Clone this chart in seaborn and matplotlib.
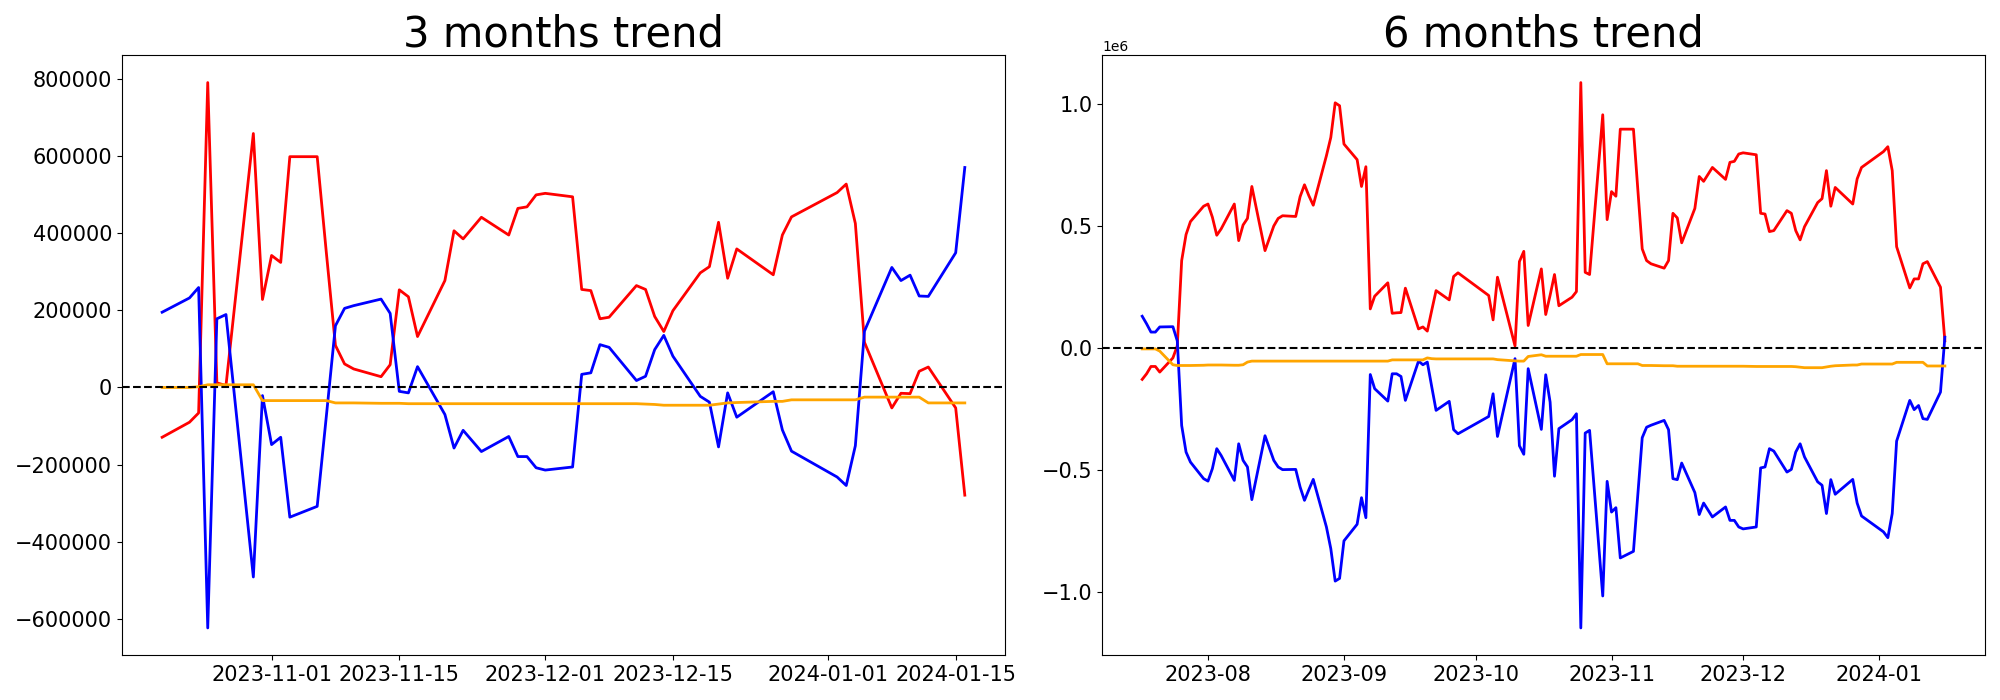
import pandas as pd
import matplotlib
matplotlib.use("Agg")
import matplotlib.pyplot as plt
import seaborn as sns

# 3 months window (cumulative values)
dates_3m = [
    "2023-10-20", "2023-10-23", "2023-10-24", "2023-10-25", "2023-10-26", "2023-10-27",
    "2023-10-30", "2023-10-31", "2023-11-01", "2023-11-02", "2023-11-03",
    "2023-11-06", "2023-11-07", "2023-11-08", "2023-11-09", "2023-11-10",
    "2023-11-13", "2023-11-14", "2023-11-15", "2023-11-16", "2023-11-17",
    "2023-11-20", "2023-11-21", "2023-11-22", "2023-11-24",
    "2023-11-27", "2023-11-28", "2023-11-29", "2023-11-30", "2023-12-01",
    "2023-12-04", "2023-12-05", "2023-12-06", "2023-12-07", "2023-12-08",
    "2023-12-11", "2023-12-12", "2023-12-13", "2023-12-14", "2023-12-15",
    "2023-12-18", "2023-12-19", "2023-12-20", "2023-12-21", "2023-12-22",
    "2023-12-26", "2023-12-27", "2023-12-28",
    "2024-01-02", "2024-01-03", "2024-01-04", "2024-01-05",
    "2024-01-08", "2024-01-09", "2024-01-10", "2024-01-11", "2024-01-12",
    "2024-01-15", "2024-01-16",
]
red_3m = [
    -129000, -90000, -66000, 790000, 12000, 5000,
    658000, 228000, 342000, 324000, 598000,
    598000, 350000, 109000, 61000, 48000,
    28000, 59000, 253000, 235000, 132000,
    277000, 406000, 385000, 441000,
    395000, 464000, 468000, 499000, 503000,
    494000, 254000, 251000, 178000, 182000,
    264000, 254000, 184000, 145000, 199000,
    297000, 313000, 428000, 283000, 359000,
    292000, 395000, 442000,
    505000, 527000, 425000, 117000,
    -53000, -15000, -16000, 42000, 53000,
    -53000, -279000,
]
blue_3m = [
    195000, 232000, 259000, -623000, 178000, 189000,
    -491000, -21000, -148000, -129000, -336000,
    -308000, -75000, 160000, 205000, 212000,
    229000, 192000, -10000, -14000, 54000,
    -70000, -157000, -111000, -166000,
    -127000, -179000, -179000, -208000, -214000,
    -206000, 34000, 38000, 111000, 104000,
    18000, 29000, 98000, 135000, 81000,
    -23000, -38000, -154000, -14000, -77000,
    -11000, -110000, -165000,
    -232000, -254000, -151000, 146000,
    311000, 277000, 291000, 237000, 236000,
    349000, 570000,
]
orange_3m = [
    0, 0, 2000, 7000, 7000, 7000,
    7000, -34000, -34000, -34000, -34000,
    -34000, -34000, -40000, -40000, -40000,
    -41000, -41000, -41000, -42000, -42000,
    -42000, -42000, -42000, -42000,
    -42000, -42000, -42000, -42000, -42000,
    -42000, -42000, -42000, -42000, -42000,
    -42000, -43000, -44000, -46000, -46000,
    -46000, -46000, -43000, -40000, -39000,
    -36000, -36000, -32000,
    -32000, -32000, -32000, -25000,
    -25000, -25000, -25000, -25000, -40000,
    -40000, -40000,
]

# 6 months window (cumulative values)
dates_6m = [
    "2023-07-17", "2023-07-18", "2023-07-19", "2023-07-20", "2023-07-21",
    "2023-07-24", "2023-07-25", "2023-07-26", "2023-07-27", "2023-07-28",
    "2023-07-31",
    "2023-08-01", "2023-08-02", "2023-08-03", "2023-08-04",
    "2023-08-07", "2023-08-08", "2023-08-09", "2023-08-10", "2023-08-11",
    "2023-08-14", "2023-08-16", "2023-08-17", "2023-08-18",
    "2023-08-21", "2023-08-22", "2023-08-23", "2023-08-24", "2023-08-25",
    "2023-08-28", "2023-08-29", "2023-08-30", "2023-08-31", "2023-09-01",
    "2023-09-04", "2023-09-05", "2023-09-06", "2023-09-07", "2023-09-08",
    "2023-09-11", "2023-09-12", "2023-09-13", "2023-09-14", "2023-09-15",
    "2023-09-18", "2023-09-19", "2023-09-20", "2023-09-21", "2023-09-22",
    "2023-09-25", "2023-09-26", "2023-09-27",
    "2023-10-04", "2023-10-05", "2023-10-06",
    "2023-10-10", "2023-10-11", "2023-10-12", "2023-10-13",
    "2023-10-16", "2023-10-17", "2023-10-18", "2023-10-19", "2023-10-20",
    "2023-10-23", "2023-10-24", "2023-10-25", "2023-10-26", "2023-10-27",
    "2023-10-30", "2023-10-31", "2023-11-01", "2023-11-02", "2023-11-03",
    "2023-11-06", "2023-11-07", "2023-11-08", "2023-11-09", "2023-11-10",
    "2023-11-13", "2023-11-14", "2023-11-15", "2023-11-16", "2023-11-17",
    "2023-11-20", "2023-11-21", "2023-11-22", "2023-11-24",
    "2023-11-27", "2023-11-28", "2023-11-29", "2023-11-30", "2023-12-01",
    "2023-12-04", "2023-12-05", "2023-12-06", "2023-12-07", "2023-12-08",
    "2023-12-11", "2023-12-12", "2023-12-13", "2023-12-14", "2023-12-15",
    "2023-12-18", "2023-12-19", "2023-12-20", "2023-12-21", "2023-12-22",
    "2023-12-26", "2023-12-27", "2023-12-28",
    "2024-01-02", "2024-01-03", "2024-01-04", "2024-01-05",
    "2024-01-08", "2024-01-09", "2024-01-10", "2024-01-11", "2024-01-12",
    "2024-01-15", "2024-01-16",
]
red_6m = [
    -128000, -105000, -75000, -75000, -98000,
    -40000, 10000, 359000, 466000, 519000,
    582000,
    591000, 537000, 463000, 489000,
    591000, 441000, 505000, 532000, 663000,
    400000, 501000, 532000, 543000,
    540000, 621000, 670000, 625000, 586000,
    789000, 864000, 1006000, 994000, 837000,
    773000, 663000, 744000, 161000, 213000,
    268000, 143000, 145000, 146000, 246000,
    79000, 87000, 70000, 154000, 236000,
    198000, 294000, 309000,
    216000, 116000, 291000,
    9000, 355000, 397000, 93000,
    325000, 138000, 217000, 302000, 174000,
    209000, 232000, 1089000, 311000, 302000,
    957000, 527000, 642000, 623000, 898000,
    898000, 650000, 407000, 359000, 346000,
    328000, 359000, 553000, 534000, 432000,
    573000, 704000, 684000, 741000,
    692000, 762000, 766000, 796000, 801000,
    793000, 553000, 550000, 478000, 482000,
    564000, 553000, 482000, 444000, 498000,
    597000, 613000, 728000, 582000, 659000,
    591000, 694000, 741000,
    806000, 826000, 728000, 416000,
    247000, 284000, 284000, 346000, 355000,
    250000, 30000,
]
blue_6m = [
    131000, 100000, 66000, 66000, 87000,
    88000, 30000, -317000, -426000, -467000,
    -535000,
    -545000, -494000, -412000, -440000,
    -542000, -392000, -460000, -487000, -621000,
    -359000, -460000, -487000, -498000,
    -497000, -569000, -624000, -580000, -538000,
    -733000, -822000, -955000, -944000, -790000,
    -722000, -613000, -695000, -108000, -166000,
    -217000, -105000, -105000, -116000, -214000,
    -53000, -68000, -57000, -157000, -255000,
    -218000, -334000, -351000,
    -280000, -187000, -362000,
    -43000, -400000, -435000, -84000,
    -333000, -109000, -221000, -525000, -330000,
    -293000, -269000, -1147000, -348000, -337000,
    -1016000, -546000, -672000, -654000, -860000,
    -833000, -600000, -367000, -324000, -316000,
    -296000, -334000, -535000, -539000, -471000,
    -592000, -682000, -635000, -692000,
    -651000, -706000, -706000, -733000, -741000,
    -733000, -491000, -487000, -412000, -422000,
    -508000, -497000, -426000, -392000, -446000,
    -548000, -562000, -678000, -539000, -599000,
    -538000, -635000, -688000,
    -753000, -777000, -678000, -381000,
    -214000, -252000, -235000, -289000, -292000,
    -180000, 45000,
]
orange_6m = [
    -3000, -3000, -3000, -3000, -12000,
    -68000, -71000, -71000, -71000, -71000,
    -70000,
    -69000, -69000, -69000, -69000,
    -70000, -70000, -68000, -57000, -53000,
    -53000, -53000, -53000, -53000,
    -53000, -53000, -53000, -53000, -53000,
    -53000, -53000, -53000, -53000, -53000,
    -53000, -53000, -53000, -53000, -53000,
    -53000, -48000, -48000, -48000, -48000,
    -48000, -48000, -40000, -43000, -44000,
    -44000, -44000, -44000,
    -44000, -44000, -47000,
    -52000, -53000, -53000, -34000,
    -27000, -33000, -33000, -33000, -33000,
    -33000, -33000, -26000, -26000, -26000,
    -26000, -64000, -64000, -64000, -64000,
    -64000, -64000, -71000, -71000, -71000,
    -72000, -72000, -72000, -74000, -74000,
    -74000, -74000, -74000, -74000,
    -74000, -74000, -74000, -74000, -74000,
    -75000, -75000, -75000, -75000, -75000,
    -75000, -75000, -76000, -78000, -80000,
    -80000, -80000, -77000, -74000, -72000,
    -69000, -69000, -65000,
    -65000, -65000, -65000, -58000,
    -58000, -58000, -58000, -58000, -73000,
    -73000, -73000,
]


def plot_trend(ax, dates, red, blue, orange, title):
    df = pd.DataFrame({
        'date': pd.to_datetime(dates),
        'red': red,
        'blue': blue,
        'orange': orange,
    })
    sns.lineplot(data=df, x='date', y='red', color='red', linewidth=2, ax=ax)
    sns.lineplot(data=df, x='date', y='blue', color='blue', linewidth=2, ax=ax)
    sns.lineplot(data=df, x='date', y='orange', color='orange', linewidth=2, ax=ax)
    ax.axhline(0, color='black', linestyle='--', linewidth=1.5)
    ax.set_title(title, fontsize=30)
    ax.set_xlabel('')
    ax.set_ylabel('')
    ax.tick_params(labelsize=15)


def main():
    fig, axes = plt.subplots(1, 2, figsize=(20, 7))
    plot_trend(axes[0], dates_3m, red_3m, blue_3m, orange_3m, '3 months trend')
    plot_trend(axes[1], dates_6m, red_6m, blue_6m, orange_6m, '6 months trend')
    fig.subplots_adjust(left=0.061, right=0.9925, top=0.921, bottom=0.064, wspace=0.11)
    fig.savefig('out.png', dpi=100)


if __name__ == "__main__":
    main()
